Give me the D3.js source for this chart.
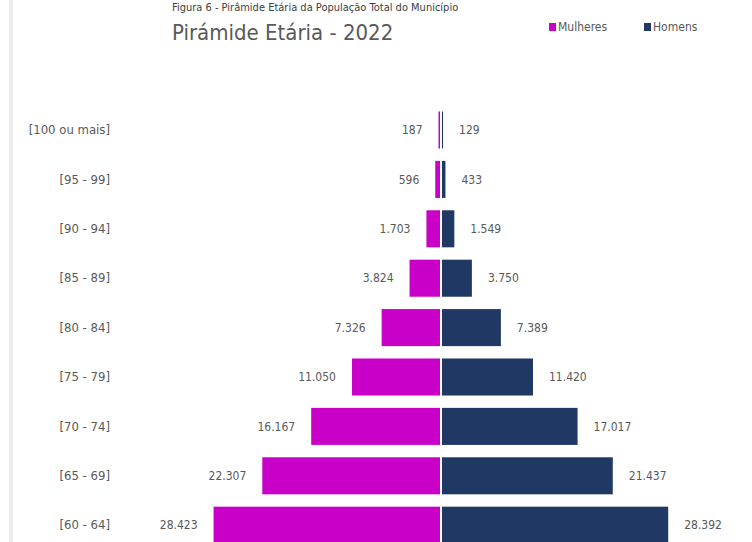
<!DOCTYPE html>
<html>
<head>
<meta charset="utf-8">
<script src="https://cdn.jsdelivr.net/npm/d3@7"></script>
<style>
  html, body { margin: 0; padding: 0; background: #ffffff; }
  svg { display: block; }
</style>
</head>
<body>
<svg id="chart" width="752" height="542"></svg>
<script>
// Faixas etárias, de cima para baixo
const faixas = ["[100 ou mais]", "[95 - 99]", "[90 - 94]", "[85 - 89]", "[80 - 84]",
                "[75 - 79]", "[70 - 74]", "[65 - 69]", "[60 - 64]"];
const mulheres = [187, 596, 1703, 3824, 7326, 11050, 16167, 22307, 28423];
const homens   = [129, 433, 1549, 3750, 7389, 11420, 17017, 21437, 28392];
const series = ["Mulheres", "Homens"];
const titulo = "Pirámide Etária - 2022";
const legenda = "Figura 6 - Pirâmide Etária da População Total do Município";

const W = 752, H = 542;
const cx = 441;
const cor = { Mulheres: "#c800c8", Homens: "#1f3864" };
const cinza = "#595959";
const fonte = "'Liberation Sans Narrow', 'DejaVu Sans Condensed', sans-serif";

const br = d3.formatLocale({ decimal: ",", thousands: ".", grouping: [3], currency: ["R$", ""] });
const fmt = br.format(",d");

const svg = d3.select("#chart");

// faixa cinza da margem da página
svg.append("rect").attr("x", 9).attr("y", 0).attr("width", 4).attr("height", H).attr("fill", "#ededed");

// legenda da figura, no topo
svg.append("text").attr("x", 172).attr("y", 11)
  .attr("font-family", fonte).attr("font-size", 11).attr("fill", "#404040")
  .text(legenda);

// título
svg.append("text").attr("x", 172).attr("y", 40)
  .attr("font-family", fonte).attr("font-size", 22).attr("fill", cinza)
  .text(titulo);

// escalas
const y = d3.scaleBand().domain(faixas).range([105.3, 549.9]).paddingInner(0.25).paddingOuter(0.125);
const xF = d3.scaleLinear().domain([0, 30000]).range([cx - 1, cx - 1 - 239]);
const xM = d3.scaleLinear().domain([0, 30000]).range([cx + 1, cx + 1 + 239]);

const dados = faixas.map((f, i) => ({ faixa: f, m: mulheres[i], h: homens[i] }));

// barras femininas
svg.append("g").selectAll("rect").data(dados).join("rect")
  .attr("x", d => xF(d.m)).attr("y", d => y(d.faixa))
  .attr("width", d => xF(0) - xF(d.m)).attr("height", y.bandwidth())
  .attr("fill", cor.Mulheres);

// barras masculinas
svg.append("g").selectAll("rect").data(dados).join("rect")
  .attr("x", xM(0)).attr("y", d => y(d.faixa))
  .attr("width", d => xM(d.h) - xM(0)).attr("height", y.bandwidth())
  .attr("fill", cor.Homens);

// rótulos de valores
const gap = 16;
svg.append("g").selectAll("text").data(dados).join("text")
  .attr("x", d => xF(d.m) - gap).attr("y", d => y(d.faixa) + y.bandwidth() / 2)
  .attr("dy", "0.35em").attr("text-anchor", "end")
  .attr("font-family", fonte).attr("font-size", 12).attr("fill", cinza)
  .text(d => fmt(d.m));
svg.append("g").selectAll("text").data(dados).join("text")
  .attr("x", d => xM(d.h) + gap).attr("y", d => y(d.faixa) + y.bandwidth() / 2)
  .attr("dy", "0.35em").attr("text-anchor", "start")
  .attr("font-family", fonte).attr("font-size", 12).attr("fill", cinza)
  .text(d => fmt(d.h));

// eixo das faixas etárias
const eixo = svg.append("g").attr("transform", "translate(110,0)")
  .call(d3.axisLeft(y).tickSize(0).tickPadding(0));
eixo.select(".domain").remove();
eixo.selectAll("text").attr("font-family", fonte).attr("font-size", 13).attr("fill", cinza);

// legenda das séries
const leg = svg.append("g").selectAll("g").data(series).join("g")
  .attr("transform", (d, i) => `translate(${[549, 644][i]},27)`);
leg.append("rect").attr("x", 0).attr("y", -4).attr("width", 7).attr("height", 8).attr("fill", d => cor[d]);
leg.append("text").attr("x", 9).attr("dy", "0.35em")
  .attr("font-family", fonte).attr("font-size", 12).attr("fill", cinza).text(d => d);
</script>
</body>
</html>
